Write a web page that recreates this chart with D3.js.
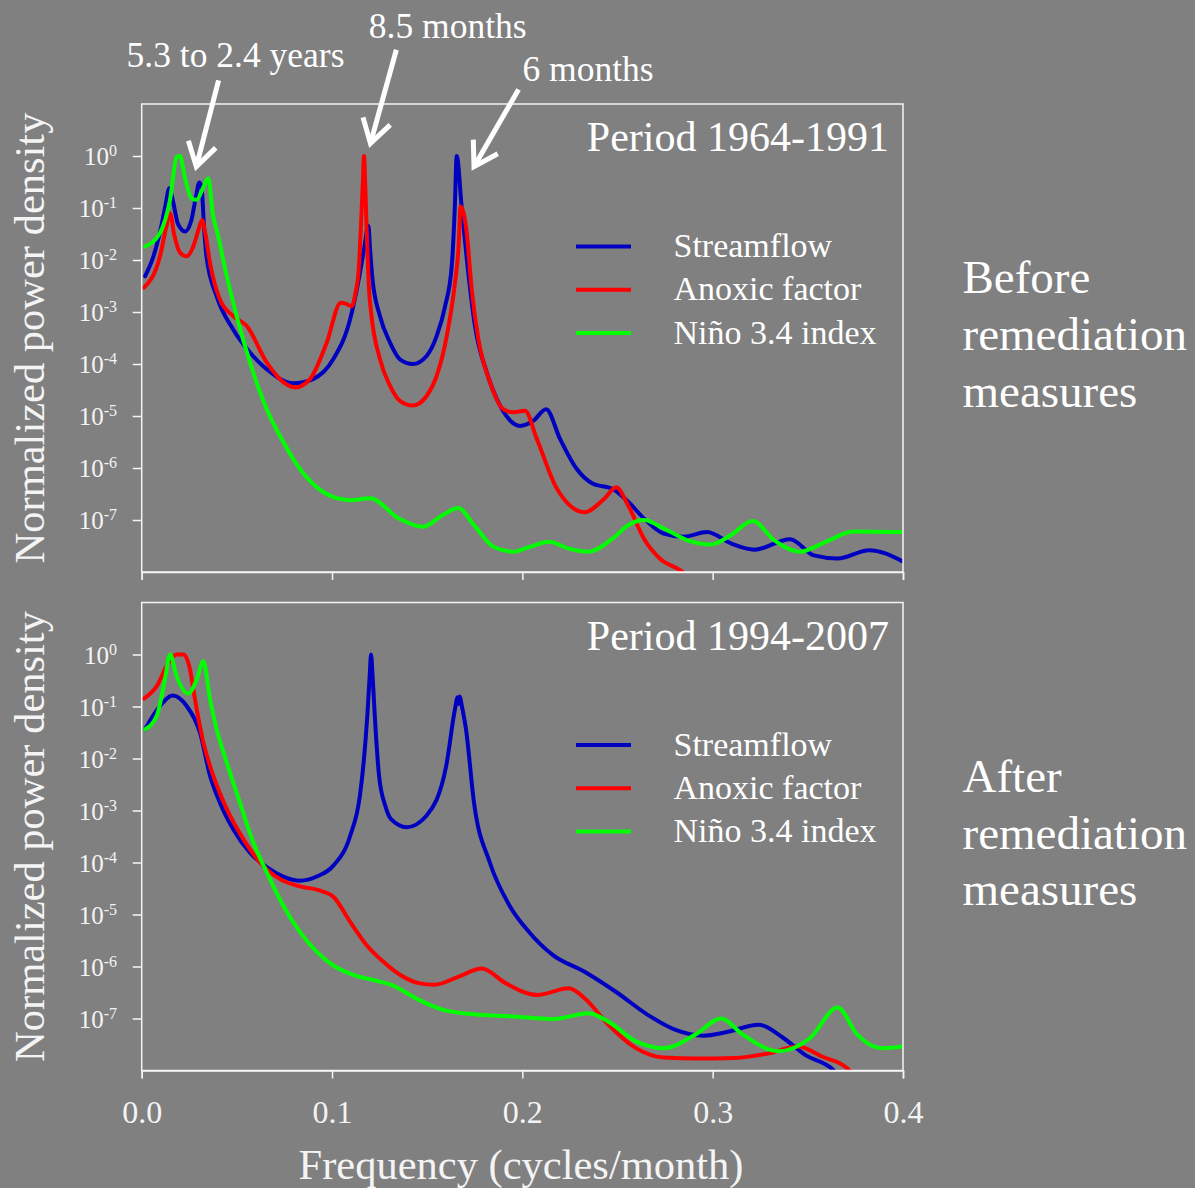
<!DOCTYPE html>
<html>
<head>
<meta charset="utf-8">
<script src="https://cdn.jsdelivr.net/npm/d3@7"></script>
<style>
  html, body { margin: 0; padding: 0; background: #808080; }
  svg { display: block; font-family: "Liberation Serif", "Times New Roman", serif; }
</style>
</head>
<body>
<svg id="chart" width="1195" height="1188"></svg>
<script>
// Normalized power spectra: [frequency (cycles/month), log10 power density]

// Period 1964-1991 (before remediation)
const beforeStreamflow = [
  [0.0018,-2.31],[0.006,-1.95],[0.010,-1.40],[0.0125,-0.95],[0.0145,-0.62],[0.0165,-0.88],
  [0.019,-1.30],[0.0228,-1.45],[0.026,-1.25],[0.0285,-0.78],[0.0303,-0.51],[0.0315,-0.62],
  [0.0328,-1.40],[0.034,-1.93],[0.0394,-2.70],[0.048,-3.33],[0.0569,-3.78],[0.0657,-4.10],
  [0.0797,-4.37],[0.090,-4.29],[0.1006,-3.91],[0.1095,-3.14],[0.1144,-2.30],[0.117,-1.75],
  [0.1191,-1.34],[0.1200,-1.80],[0.1212,-2.35],[0.1252,-3.08],[0.1305,-3.59],[0.1357,-3.91],
  [0.1424,-4.00],[0.1498,-3.84],[0.155,-3.46],[0.1594,-2.89],[0.1629,-2.12],[0.1645,-1.00],
  [0.1655,0],[0.1681,-0.97],[0.1716,-2.25],[0.1751,-3.27],[0.1813,-4.16],[0.1883,-4.80],
  [0.1988,-5.19],[0.2058,-5.09],[0.2125,-4.87],[0.2198,-5.44],[0.2286,-6.02],[0.2369,-6.30],
  [0.2473,-6.40],[0.2556,-6.65],[0.2639,-6.97],[0.2742,-7.26],[0.2847,-7.32],[0.2971,-7.23],
  [0.3096,-7.45],[0.322,-7.57],[0.3407,-7.37],[0.3532,-7.68],[0.3656,-7.74],[0.3822,-7.58],
  [0.40,-7.80]
];
const beforeAnoxic = [
  [0.0012,-2.53],[0.0096,-1.93],[0.013,-1.35],[0.0149,-1.10],[0.017,-1.50],[0.020,-1.85],
  [0.0236,-1.93],[0.027,-1.75],[0.030,-1.40],[0.0317,-1.23],[0.0335,-1.50],[0.0359,-2.06],
  [0.0411,-2.76],[0.0481,-3.08],[0.0552,-3.27],[0.0657,-3.97],[0.0744,-4.35],[0.0806,-4.45],
  [0.0884,-4.29],[0.0972,-3.59],[0.1046,-2.82],[0.1072,-2.84],[0.1103,-2.89],[0.1125,-2.60],
  [0.1140,-2.20],[0.1151,-1.42],[0.1162,-0.50],[0.1168,0],[0.1174,-0.50],[0.1182,-1.42],
  [0.1195,-2.60],[0.1205,-3.00],[0.1252,-3.91],[0.1305,-4.42],[0.1357,-4.71],[0.1424,-4.80],
  [0.1498,-4.61],[0.155,-4.23],[0.1603,-3.46],[0.1646,-2.44],[0.1664,-1.80],[0.1676,-0.97],
  [0.1708,-1.48],[0.1734,-2.57],[0.1769,-3.52],[0.183,-4.35],[0.190,-4.87],[0.1953,-4.93],
  [0.2014,-4.90],[0.2076,-5.44],[0.2182,-6.40],[0.2327,-6.85],[0.2431,-6.59],[0.2493,-6.37],
  [0.2556,-6.72],[0.2639,-7.36],[0.2722,-7.74],[0.2826,-7.96],[0.286,-8.05]
];
const beforeNino = [
  [0.0017,-1.74],[0.0096,-1.48],[0.0149,-0.84],[0.0184,-0.02],[0.0201,0],[0.0228,-0.43],
  [0.0263,-0.82],[0.0289,-0.84],[0.0324,-0.60],[0.035,-0.43],[0.0376,-1.17],[0.0394,-1.42],
  [0.0447,-2.31],[0.0499,-3.08],[0.0569,-3.97],[0.0657,-4.87],[0.0744,-5.50],[0.0832,-6.02],
  [0.092,-6.37],[0.1007,-6.56],[0.1095,-6.62],[0.12,-6.58],[0.1351,-6.97],[0.1476,-7.13],
  [0.158,-6.91],[0.1663,-6.77],[0.1746,-7.10],[0.185,-7.52],[0.1953,-7.61],[0.2036,-7.52],
  [0.214,-7.42],[0.2244,-7.55],[0.2348,-7.61],[0.2473,-7.36],[0.2556,-7.10],[0.2639,-7.00],
  [0.2742,-7.16],[0.2867,-7.39],[0.2992,-7.47],[0.3096,-7.29],[0.321,-7.02],[0.3324,-7.39],
  [0.3459,-7.61],[0.3594,-7.42],[0.374,-7.22],[0.40,-7.23]
];

// Period 1994-2007 (after remediation)
const afterStreamflow = [
  [0.0017,-1.44],[0.0096,-0.99],[0.0163,-0.79],[0.0236,-0.99],[0.0306,-1.50],[0.0359,-2.33],
  [0.0411,-2.85],[0.0481,-3.36],[0.0569,-3.81],[0.0657,-4.09],[0.0744,-4.27],[0.0832,-4.35],
  [0.092,-4.27],[0.1007,-4.06],[0.1095,-3.49],[0.1147,-2.70],[0.1168,-2.00],[0.1185,-1.20],
  [0.1198,-0.40],[0.1205,0],[0.1213,-0.40],[0.1225,-1.20],[0.1247,-2.33],[0.1279,-2.90],
  [0.1309,-3.16],[0.1393,-3.32],[0.1496,-3.10],[0.160,-2.14],[0.1646,-1.05],[0.1660,-0.82],
  [0.1665,-0.95],[0.1672,-0.81],[0.168,-0.95],[0.1704,-1.44],[0.1746,-2.85],[0.1829,-4.00],
  [0.1933,-4.83],[0.2036,-5.34],[0.2161,-5.78],[0.2327,-6.10],[0.2493,-6.49],[0.2659,-6.93],
  [0.2805,-7.22],[0.295,-7.33],[0.3075,-7.26],[0.3241,-7.12],[0.3366,-7.36],[0.349,-7.71],
  [0.3625,-7.96],[0.365,-8.05]
];
const afterAnoxic = [
  [0.0012,-0.85],[0.0079,-0.61],[0.014,-0.16],[0.0184,0],[0.0219,0],[0.0254,-0.29],
  [0.0271,-0.67],[0.0289,-1.05],[0.0324,-1.69],[0.0376,-2.33],[0.0447,-2.97],[0.0534,-3.55],
  [0.0622,-4.00],[0.0727,-4.32],[0.0832,-4.46],[0.0937,-4.54],[0.1007,-4.66],[0.1095,-5.14],
  [0.1182,-5.59],[0.127,-5.91],[0.1357,-6.16],[0.1455,-6.32],[0.1538,-6.35],[0.1663,-6.20],
  [0.1787,-6.04],[0.1912,-6.32],[0.2078,-6.55],[0.2244,-6.42],[0.2327,-6.61],[0.2452,-7.12],
  [0.2597,-7.57],[0.2742,-7.75],[0.2909,-7.77],[0.3117,-7.76],[0.3283,-7.68],[0.3449,-7.54],
  [0.3573,-7.73],[0.3708,-7.96],[0.373,-8.05]
];
const afterNino = [
  [0.0017,-1.44],[0.0079,-1.18],[0.0122,-0.48],[0.0149,0],[0.0184,-0.42],[0.0245,-0.75],
  [0.0289,-0.48],[0.0324,-0.13],[0.0359,-0.86],[0.0394,-1.44],[0.0447,-2.08],[0.0516,-2.85],
  [0.0586,-3.61],[0.0657,-4.19],[0.0744,-4.83],[0.0832,-5.34],[0.092,-5.72],[0.1007,-5.98],
  [0.1112,-6.16],[0.1217,-6.26],[0.1309,-6.35],[0.1455,-6.64],[0.158,-6.83],[0.1746,-6.92],
  [0.1953,-6.96],[0.2161,-7.01],[0.2348,-6.90],[0.2452,-7.06],[0.2597,-7.44],[0.2742,-7.57],
  [0.2909,-7.31],[0.3044,-7.00],[0.3158,-7.31],[0.3345,-7.63],[0.3511,-7.38],[0.3656,-6.79],
  [0.376,-7.31],[0.3885,-7.57],[0.40,-7.54]
];

const seriesNames = ["Streamflow", "Anoxic factor", "Niño 3.4 index"];
const seriesColors = ["#0000c0", "#ff0000", "#00ff00"];
const freqTicks = [0, 0.1, 0.2, 0.3, 0.4];
const decadeTicks = [0, -1, -2, -3, -4, -5, -6, -7];
const panelTitles = ["Period 1964-1991", "Period 1994-2007"];
const sideLabels = [["Before", "remediation", "measures"], ["After", "remediation", "measures"]];

// Peak annotations on the upper panel: text, then arrow tail and tip as [frequency, log10 power]
const annotationText = ["5.3 to 2.4 years", "8.5 months", "6 months"];
const annotationTextAt = [[0.0493, 1.72], [0.1608, 2.27], [0.2345, 1.45]];
const arrowTails = [[0.0404, 1.456], [0.1338, 2.044], [0.198, 1.278]];
const arrowTips = [[0.0287, -0.205], [0.1202, 0.243], [0.1746, -0.205]];

const svg = d3.select("#chart");
const W = 1195, H = 1188;
svg.append("rect").attr("width", W).attr("height", H).attr("fill", "#808080");

const left = 141.7, right = 903;
const panelTops = [104, 602.5];
const panelH = 468;
const frameColor = "#f4f4f4";

const x = d3.scaleLinear().domain([0, 0.4]).range([left, right]);

const panels = [
  [beforeStreamflow, beforeAnoxic, beforeNino],
  [afterStreamflow, afterAnoxic, afterNino]
];

panels.forEach((seriesList, pi) => {
  const top = panelTops[pi];
  const bottom = top + panelH;
  const y = d3.scaleLog().domain([1e-8, 10]).range([bottom, top]);
  const g = svg.append("g");

  const clipId = "clip" + pi;
  svg.append("clipPath").attr("id", clipId)
    .append("rect").attr("x", left).attr("y", top).attr("width", right - left).attr("height", panelH);

  // spectra
  const line = d3.line()
    .x(d => x(d[0]))
    .y(d => y(Math.pow(10, d[1])))
    .curve(d3.curveMonotoneX);
  const plot = g.append("g").attr("clip-path", `url(#${clipId})`);
  seriesList.forEach((s, si) => {
    plot.append("path").datum(s)
      .attr("d", line)
      .attr("fill", "none")
      .attr("stroke", seriesColors[si])
      .attr("stroke-width", 4)
      .attr("stroke-linejoin", "round")
      .attr("stroke-linecap", "round");
  });

  // frame
  g.append("rect").attr("x", left).attr("y", top).attr("width", right - left).attr("height", panelH)
    .attr("fill", "none").attr("stroke", frameColor).attr("stroke-width", 1.5);

  // y axis (decades)
  const yAxis = d3.axisLeft(y).tickValues(decadeTicks.map(e => Math.pow(10, e)))
    .tickSize(9).tickFormat("");
  const ya = g.append("g").attr("transform", `translate(${left},0)`).call(yAxis);
  ya.select(".domain").remove();
  ya.selectAll("line").attr("stroke", frameColor).attr("stroke-width", 1.5);
  decadeTicks.forEach(e => {
    const t = g.append("text")
      .attr("x", 117).attr("y", y(Math.pow(10, e)) + 9)
      .attr("text-anchor", "end").attr("fill", "#f4f4f4");
    t.append("tspan").attr("font-size", 25).text("10");
    t.append("tspan").attr("font-size", 16).attr("dy", -9).text(String(e));
  });

  // x axis
  const xAxis = d3.axisBottom(x).tickValues(freqTicks).tickSize(8)
    .tickFormat(pi === 1 ? d3.format(".1f") : "");
  const xa = g.append("g").attr("transform", `translate(0,${bottom})`).call(xAxis);
  xa.select(".domain").attr("stroke", frameColor).attr("stroke-width", 1.5);
  xa.selectAll("line").attr("stroke", frameColor).attr("stroke-width", 1.5);
  xa.selectAll("text")
    .attr("font-family", "'Liberation Serif', 'Times New Roman', serif")
    .attr("font-size", 32).attr("fill", "#f4f4f4").attr("dy", null).attr("y", 52.5);

  // y axis title
  g.append("text")
    .attr("transform", `translate(44,${top + panelH / 2}) rotate(-90)`)
    .attr("text-anchor", "middle").attr("font-size", 42.5).attr("fill", "#f4f4f4")
    .text("Normalized power density");

  // panel title
  g.append("text").attr("x", 889).attr("y", top + 47)
    .attr("text-anchor", "end").attr("font-size", 42).attr("fill", "#ffffff")
    .text(panelTitles[pi]);

  // legend
  seriesNames.forEach((name, si) => {
    const ly = top + 142.5 + si * 43.3;
    g.append("line").attr("x1", 576).attr("x2", 631).attr("y1", ly).attr("y2", ly)
      .attr("stroke", seriesColors[si]).attr("stroke-width", 4);
    g.append("text").attr("x", 673.5).attr("y", ly + 10.5)
      .attr("font-size", 34).attr("fill", "#ffffff").text(name);
  });

  // side label
  sideLabels[pi].forEach((txt, li) => {
    g.append("text").attr("x", 962.5).attr("y", top + 189.3 + li * 56.7)
      .attr("font-size", 47).attr("fill", "#ffffff").text(txt);
  });

  // annotations with arrows (upper panel only)
  if (pi === 0) {
    const ann = svg.append("g");
    const P = d => [x(d[0]), y(Math.pow(10, d[1]))];
    annotationText.forEach((txt, ai) => {
      const [tx, ty] = P(annotationTextAt[ai]);
      ann.append("text").attr("x", tx).attr("y", ty).attr("text-anchor", "middle")
        .attr("font-size", 35.5).attr("fill", "#ffffff").text(txt);
      const [x0, y0] = P(arrowTails[ai]);
      const [x1, y1] = P(arrowTips[ai]);
      const ang = Math.atan2(y1 - y0, x1 - x0);
      const len = 27, spread = 0.55;
      const b1 = [x1 - len * Math.cos(ang - spread), y1 - len * Math.sin(ang - spread)];
      const b2 = [x1 - len * Math.cos(ang + spread), y1 - len * Math.sin(ang + spread)];
      ann.append("line").attr("x1", x0).attr("y1", y0).attr("x2", x1 - 2 * Math.cos(ang)).attr("y2", y1 - 2 * Math.sin(ang))
        .attr("stroke", "#ffffff").attr("stroke-width", 5);
      ann.append("path")
        .attr("d", `M${b1[0]},${b1[1]}L${x1},${y1}L${b2[0]},${b2[1]}`)
        .attr("fill", "none").attr("stroke", "#ffffff").attr("stroke-width", 5)
        .attr("stroke-linejoin", "miter").attr("stroke-miterlimit", 10);
    });
  }
});

// x axis title
svg.append("text").attr("x", 521).attr("y", 1179).attr("text-anchor", "middle")
  .attr("font-size", 42.5).attr("fill", "#f4f4f4").text("Frequency (cycles/month)");
</script>
</body>
</html>
